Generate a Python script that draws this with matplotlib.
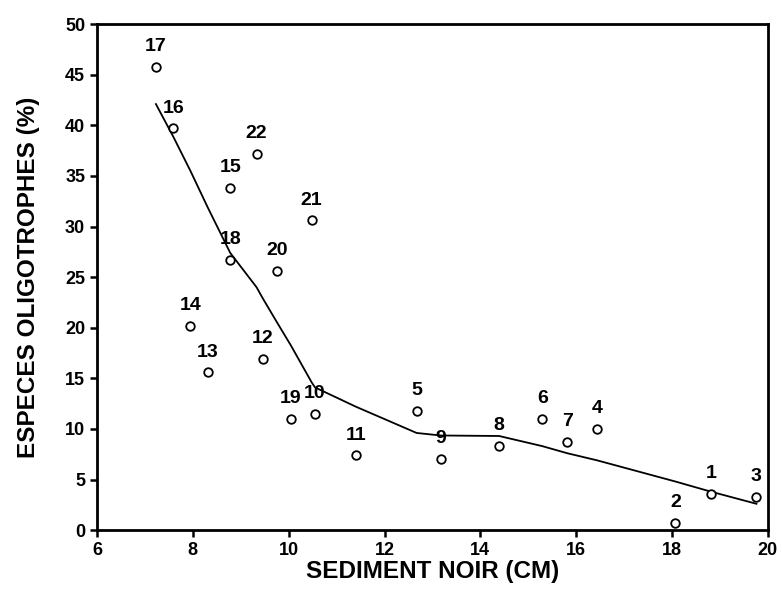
import matplotlib
matplotlib.use("Agg")
import matplotlib.pyplot as plt

plt.rcParams['font.family'] = ['Liberation Sans', 'DejaVu Sans']

# data points (station id, sediment noir cm, especes oligotrophes %)
labels = ["1", "2", "3", "4", "5", "6", "7", "8", "9", "10", "11",
          "12", "13", "14", "15", "16", "17", "18", "19", "20", "21", "22"]
sediment = [18.81, 18.07, 19.76, 16.43, 12.67, 15.29, 15.81, 14.39, 13.17, 10.55, 11.40,
            9.46, 8.31, 7.95, 8.78, 7.59, 7.23, 8.78, 10.04, 9.76, 10.48, 9.33]
especes = [3.6, 0.7, 3.3, 10.0, 11.8, 11.0, 8.7, 8.3, 7.05, 11.5, 7.4,
           16.9, 15.6, 20.2, 33.8, 39.7, 45.8, 26.7, 11.0, 25.6, 30.6, 37.2]

# smoothed curve
curve_x = [7.23, 7.59, 7.95, 8.31, 8.78, 9.33, 9.46, 9.76, 10.04, 10.48, 10.55,
           11.40, 12.67, 13.17, 14.39, 15.29, 15.81, 16.43, 18.07, 18.81, 19.76]
curve_y = [42.1, 38.9, 35.5, 31.9, 27.4, 24.0, 22.9, 20.5, 18.3, 14.6, 14.1,
           12.2, 9.6, 9.35, 9.3, 8.3, 7.6, 6.9, 4.8, 3.8, 2.6]

x_ticks = [6, 8, 10, 12, 14, 16, 18, 20]
y_ticks = [0, 5, 10, 15, 20, 25, 30, 35, 40, 45, 50]

fig = plt.figure(figsize=(7.82, 5.89), dpi=100)
ax = fig.add_axes([0.124, 0.100, 0.858, 0.859])

ax.plot(curve_x, curve_y, color='black', lw=1.3, zorder=2)
ax.scatter(sediment, especes, s=38, facecolors='white', edgecolors='black', linewidths=1.3, zorder=3)
for lab, x, y in zip(labels, sediment, especes):
    ax.annotate(lab, (x, y), xytext=(0, 14.5), textcoords='offset points',
                ha='center', va='center', fontsize=14, fontweight='bold')

ax.set_xlim(6, 20)
ax.set_ylim(0, 50)
ax.set_xticks(x_ticks)
ax.set_yticks(y_ticks)
for lab in ax.get_xticklabels() + ax.get_yticklabels():
    lab.set_fontweight('bold')
ax.tick_params(direction='out', length=5, width=1.8, labelsize=13)
for sp in ax.spines.values():
    sp.set_linewidth(2)

ax.set_xlabel('SEDIMENT NOIR (CM)', fontsize=17.5, fontweight='bold')
ax.set_ylabel('ESPECES OLIGOTROPHES (%)', fontsize=17.5, fontweight='bold')
ax.xaxis.set_label_coords(0.5, -0.059)
ax.yaxis.set_label_coords(-0.085, 0.5)

fig.savefig('out.png', dpi=100)
